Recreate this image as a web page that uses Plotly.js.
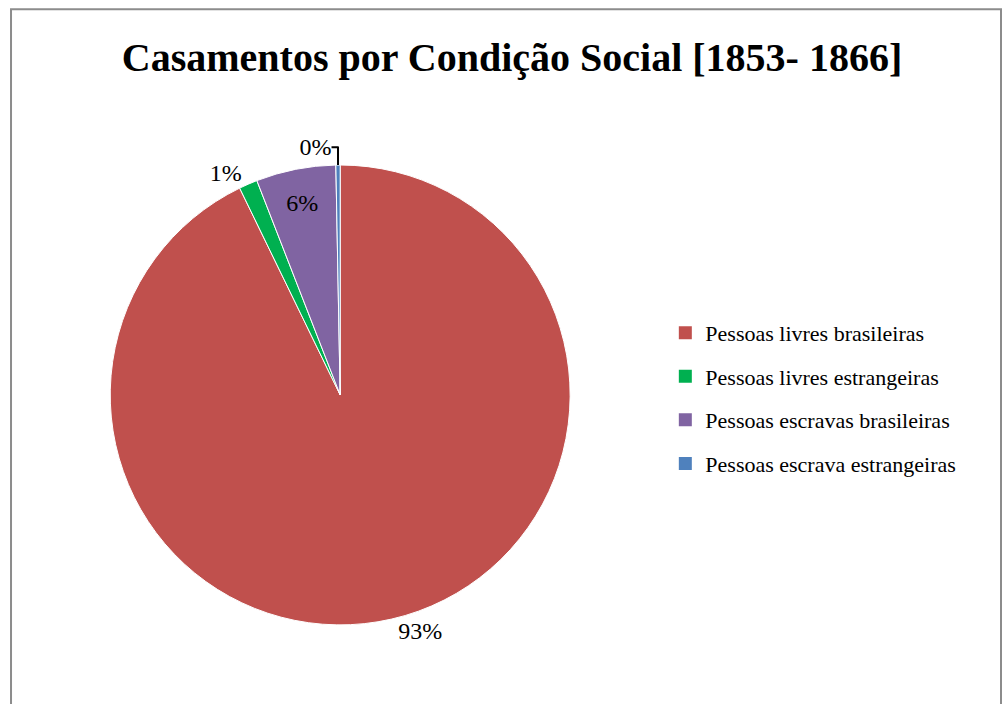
<!DOCTYPE html>
<html>
<head>
<meta charset="utf-8">
<script src="https://cdn.plot.ly/plotly-3.0.1.min.js"></script>
<style>html,body{margin:0;padding:0;background:#fff;}#chart{width:1002px;height:704px;}</style>
</head>
<body>
<div id="chart"></div>
<script>
const categories = ["Pessoas livres brasileiras", "Pessoas livres estrangeiras", "Pessoas escravas brasileiras", "Pessoas escrava estrangeiras"];
const values = [92.8, 1.3, 5.6, 0.3];
const colors = ["#C0504D", "#00B050", "#8064A2", "#4F81BD"];
const textPositions = ["outside", "outside", "inside", "outside"];

const SERIF = "Liberation Serif";

const pieTrace = {
  type: "pie",
  labels: categories,
  values: values,
  sort: false,
  direction: "clockwise",
  rotation: 0,
  showlegend: false,
  marker: {colors: colors, line: {color: "#ffffff", width: 1}},
  texttemplate: "%{percent:.0%}",
  textposition: textPositions,
  textfont: {family: SERIF, size: 24, color: "#000"},
  insidetextorientation: "horizontal",
  outsidetextfont: {family: SERIF, size: 24, color: "#000"},
  hoverinfo: "label+percent",
  domain: {x: [0.11, 0.569], y: [0.112, 0.766]}
};

// legend entries (one per category, same colours as the slices)
const legendTraces = categories.map((name, i) => ({
  type: "scatter",
  mode: "markers",
  x: [null], y: [null],
  name: name,
  legendgroup: "g" + i,
  marker: {symbol: "square", size: 13, color: colors[i]},
  hoverinfo: "skip"
}));

const layout = {
  width: 1002,
  height: 704,
  margin: {l: 0, r: 0, t: 0, b: 0},
  paper_bgcolor: "#ffffff",
  plot_bgcolor: "rgba(0,0,0,0)",
  xaxis: {visible: false},
  yaxis: {visible: false},
  title: {
    text: "<b>Casamentos por Condição Social [1853- 1866]</b>",
    font: {family: SERIF, size: 40, color: "#000"},
    x: 0.511, xanchor: "center", y: 0.919, yanchor: "middle"
  },
  showlegend: true,
  legend: {
    x: 0.664, xanchor: "left", y: 0.557, yanchor: "top",
    font: {family: SERIF, size: 22, color: "#000"},
    tracegroupgap: 12,
    itemclick: false,
    bgcolor: "rgba(0,0,0,0)"
  },
  shapes: [{
    type: "rect", xref: "paper", yref: "paper",
    x0: 0.011, x1: 0.999, y0: -0.02, y1: 0.987,
    line: {color: "#8c8c8c", width: 2}, fillcolor: "rgba(0,0,0,0)"
  }]
};

Plotly.newPlot("chart", legendTraces.concat([pieTrace]), layout, {displayModeBar: false});
</script>
</body>
</html>
